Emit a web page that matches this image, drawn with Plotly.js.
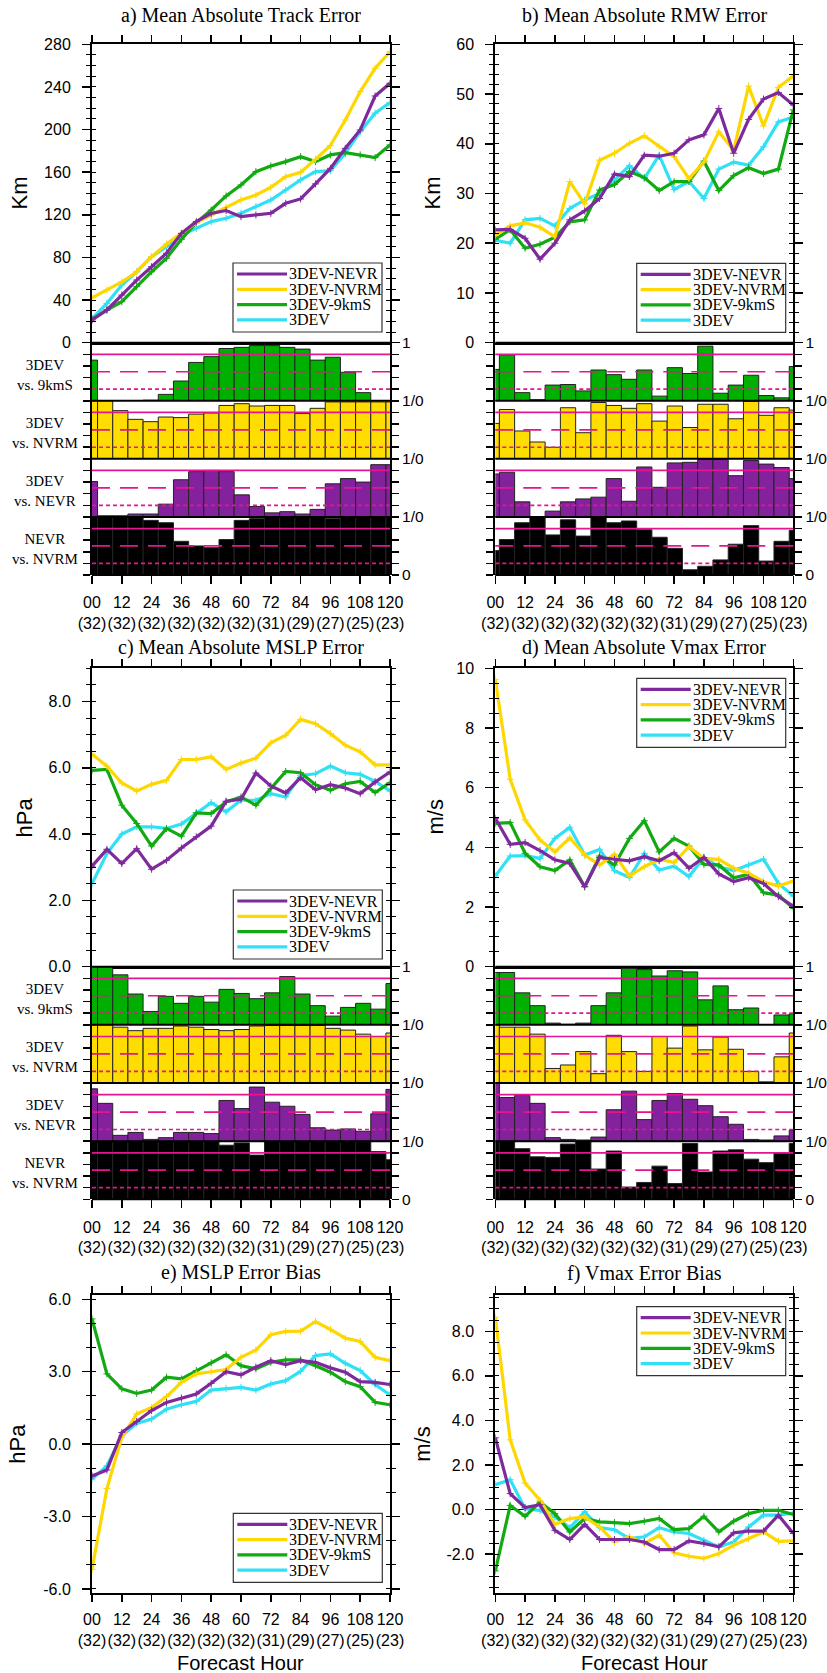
<!DOCTYPE html>
<html><head><meta charset="utf-8">
<script src="https://cdn.plot.ly/plotly-3.0.1.min.js"></script>
<style>html,body{margin:0;padding:0;background:#fff}#chart{width:827px;height:1673px}</style>
</head><body><div id="chart"></div>
<script>
// ---------------- DATA ----------------
const forecastHours = [0,6,12,18,24,30,36,42,48,54,60,66,72,78,84,90,96,102,108,114,120];
const tickHours = [0,12,24,36,48,60,72,84,96,108,120];
const tickLabels = ['00','12','24','36','48','60','72','84','96','108','120'];
const caseCounts = ['(32)','(32)','(32)','(32)','(32)','(32)','(31)','(29)','(27)','(25)','(23)'];
const seriesNames = ['3DEV-NEVR','3DEV-NVRM','3DEV-9kmS','3DEV'];
const seriesColors = ['#7E2A9D','#FFD700','#12AA12','#30E0F4'];
const barLabels = ['3DEV<br>vs. 9kmS','3DEV<br>vs. NVRM','3DEV<br>vs. NEVR','NEVR<br>vs. NVRM'];
const barColors = ['#00B000','#FFDD00','#84229E','#000000'];
const sigLevels = [0.8, 0.5, 0.2];
const stackEdgeLabels = ['0','1/0','1/0','1/0','1'];
const titles = ['a) Mean Absolute Track Error','b) Mean Absolute RMW Error','c) Mean Absolute MSLP Error','d) Mean Absolute Vmax Error','e) MSLP Error Bias','f) Vmax Error Bias'];
const yTitles = ['Km','Km','hPa','m/s','hPa','m/s'];

// a) track
const trackNEVR = [21.3,30.7,44.7,58.8,71.3,83.9,102.6,113.6,121.4,124.0,118.3,119.8,121.4,130.8,134.9,149.0,163.6,182.4,199.6,231.5,243.4];
const trackNVRM = [42.2,49.4,57.0,66.6,80.7,92.6,102.6,112.6,119.8,127.0,134.0,138.6,145.8,155.8,160.0,172.0,185.0,209.0,235.6,257.5,273.0];
const track9kmS = [21.9,30.7,38.5,52.6,66.6,79.2,97.0,112.6,124.5,137.7,148.0,160.5,165.8,169.9,174.6,169.9,176.2,178.3,176.2,173.7,185.5];
const track3DEV = [22.8,36.9,54.1,66.6,80.7,90.1,101.0,107.3,113.6,116.7,121.4,127.7,133.9,143.3,152.7,160.5,161.5,177.7,198.0,215.3,225.3];
// b) RMW
const rmwNEVR = [22.7,22.8,21.0,16.8,20.0,24.7,26.5,29.0,33.9,33.4,37.7,37.5,38.1,40.8,41.8,47.1,38.1,44.9,49.0,50.3,47.8];
const rmwNVRM = [21.6,23.5,24.1,23.2,21.3,32.4,27.9,36.7,38.1,40.1,41.6,39.4,37.4,33.0,36.3,42.4,38.7,51.6,43.6,51.3,53.6];
const rmw9kmS = [20.8,22.7,19.0,19.8,21.2,24.3,24.7,30.7,31.8,34.4,33.2,30.6,32.4,32.4,36.5,30.6,33.6,35.2,34.0,34.9,46.8];
const rmw3DEV = [20.6,20.0,24.7,25.0,23.5,27.0,28.7,30.0,32.7,35.6,33.0,37.7,30.8,32.4,29.0,34.9,36.3,35.7,39.4,44.4,45.4];
// c) MSLP
const mslpNEVR = [3.03,3.54,3.11,3.56,2.94,3.21,3.58,3.92,4.24,4.99,5.05,5.84,5.45,5.24,5.70,5.34,5.49,5.39,5.22,5.57,5.87];
const mslpNVRM = [6.41,6.05,5.54,5.30,5.50,5.62,6.25,6.25,6.33,5.95,6.14,6.29,6.75,6.98,7.46,7.33,7.03,6.68,6.48,6.09,6.09];
const mslp9kmS = [5.92,5.95,4.87,4.32,3.64,4.17,3.94,4.64,4.62,4.97,5.12,4.87,5.37,5.89,5.85,5.49,5.32,5.52,5.59,5.25,5.55];
const mslp3DEV = [2.51,3.41,4.00,4.22,4.22,4.17,4.30,4.64,4.95,4.67,5.02,5.02,5.22,5.12,5.77,5.82,6.05,5.85,5.80,5.59,5.30];
// d) Vmax
const vmaxNEVR = [4.97,4.10,4.16,3.89,3.58,3.46,2.68,3.66,3.60,3.55,3.69,3.55,3.82,3.30,3.66,3.11,2.85,2.98,2.79,2.35,2.03];
const vmaxNVRM = [9.63,6.28,4.92,4.25,3.85,4.32,3.74,3.41,3.77,3.04,3.35,3.60,3.49,4.02,3.63,3.60,3.30,3.13,2.85,2.70,2.87];
const vmax9kmS = [4.80,4.83,3.80,3.35,3.22,3.58,2.68,3.71,3.41,4.30,4.89,3.85,4.30,4.04,3.43,3.41,2.98,3.10,2.48,2.40,1.96];
const vmax3DEV = [3.04,3.71,3.72,3.63,4.30,4.67,3.74,3.93,3.22,2.99,3.80,3.24,3.37,3.02,3.66,3.35,3.22,3.41,3.60,2.79,2.37];
// e) MSLP bias
const biasMslpNEVR = [-1.32,-1.07,0.48,0.94,1.39,1.73,1.91,2.08,2.52,3.00,2.87,3.19,3.46,3.30,3.46,3.39,3.16,2.98,2.59,2.56,2.47];
const biasMslpNVRM = [-5.19,-1.84,0.28,1.25,1.52,1.97,2.56,2.91,3.00,3.09,3.60,3.90,4.53,4.67,4.68,5.08,4.75,4.39,4.25,3.60,3.46];
const biasMslp9kmS = [5.19,2.91,2.29,2.10,2.24,2.77,2.70,3.05,3.37,3.70,3.25,3.12,3.39,3.49,3.49,3.25,2.98,2.59,2.38,1.73,1.63];
const biasMslp3DEV = [-1.45,-0.90,0.35,0.86,1.04,1.45,1.63,1.77,2.24,2.31,2.35,2.24,2.49,2.63,3.02,3.67,3.74,3.35,3.05,2.47,2.04];
// f) Vmax bias
const biasVmaxNEVR = [3.22,0.72,0.09,0.22,-0.93,-1.34,-0.66,-1.34,-1.34,-1.34,-1.45,-1.79,-1.79,-1.40,-1.52,-1.67,-1.04,-0.96,-0.96,-0.25,-1.07];
const biasVmaxNVRM = [8.63,3.13,1.19,0.42,-0.66,-0.40,-0.33,-0.78,-1.45,-1.22,-1.52,-1.15,-1.94,-2.09,-2.19,-1.97,-1.60,-1.30,-1.00,-1.42,-1.40];
const biasVmax9kmS = [-2.75,0.19,-0.30,0.34,-0.18,-1.00,-0.40,-0.55,-0.58,-0.63,-0.52,-0.40,-0.90,-0.85,-0.30,-1.00,-0.52,-0.18,-0.03,-0.03,-0.22];
const biasVmax3DEV = [1.12,1.34,0.04,-0.03,-0.33,-0.81,-0.10,-0.81,-0.90,-1.30,-1.22,-0.81,-1.00,-1.07,-1.37,-1.67,-1.45,-0.78,-0.25,-0.25,-0.15];

// significance bars (0..1)
const sigTrack9kmS  = [0.70,0,0,0,0.01,0.11,0.34,0.66,0.76,0.90,0.92,0.95,0.95,0.92,0.89,0.70,0.75,0.49,0.14,0,0];
const sigTrackNVRM  = [1.0,1.0,0.83,0.68,0.64,0.72,0.71,0.77,0.79,0.92,0.95,0.91,0.92,0.92,0.78,0.87,0.98,0.98,0.98,0.98,0.98];
const sigTrackNEVR  = [0.61,0.02,0.02,0.05,0.05,0.22,0.64,0.78,0.80,0.78,0.38,0.18,0.07,0.09,0.05,0.13,0.57,0.66,0.60,0.90,0.90];
const sigTrackNN    = [1.0,1.0,1.0,0.99,0.94,0.90,0.58,0.50,0.47,0.61,0.94,0.97,1.0,1.0,1.0,1.0,0.97,1.0,1.0,1.0,1.0];
const sigRmw9kmS    = [0.54,0.79,0.14,0.02,0.27,0.28,0.17,0.53,0.45,0.37,0.53,0.08,0.57,0.47,0.94,0.13,0.27,0.44,0.09,0.05,0.59];
const sigRmwNVRM    = [0.61,0.85,0.48,0.29,0.20,0.88,0.45,0.97,0.92,0.87,0.95,0.65,0.91,0.54,0.94,0.94,0.69,0.99,0.75,0.88,0.84];
const sigRmwNEVR    = [0.74,0.77,0.26,0.0,0.10,0.26,0.31,0.34,0.66,0.27,0.86,0.51,0.93,0.94,0.99,0.99,0.71,0.97,0.91,0.85,0.66];
const sigRmwNN      = [0.42,0.61,0.90,1.0,0.69,0.95,0.67,1.0,0.90,0.93,0.78,0.65,0.46,0.09,0.15,0.26,0.53,0.85,0.24,0.58,0.77];
const sigMslp9kmS   = [1.0,1.0,0.86,0.53,0.23,0.49,0.37,0.49,0.39,0.61,0.54,0.45,0.55,0.83,0.53,0.33,0.15,0.30,0.37,0.27,0.71];
const sigMslpNVRM   = [1.0,1.0,0.96,0.90,0.94,0.94,0.98,0.96,0.92,0.90,0.92,0.98,0.99,0.99,0.99,0.99,0.94,0.91,0.84,0.80,0.86];
const sigMslpNEVR   = [0.90,0.65,0.10,0.15,0.03,0.06,0.15,0.15,0.13,0.70,0.56,0.93,0.67,0.60,0.46,0.23,0.19,0.21,0.17,0.47,0.89];
const sigMslpNN     = [1.0,1.0,1.0,1.0,1.0,1.0,1.0,1.0,1.0,0.93,0.97,0.76,1.0,1.0,1.0,1.0,1.0,1.0,0.99,0.82,0.68];
const sigVmax9kmS   = [0.90,0.90,0.55,0.33,0.03,0.01,0.03,0.33,0.55,0.97,0.95,0.84,0.93,0.91,0.43,0.67,0.26,0.29,0.0,0.17,0.19];
const sigVmaxNVRM   = [1.0,0.96,0.96,0.84,0.25,0.31,0.54,0.16,0.82,0.54,0.20,0.80,0.60,0.98,0.57,0.79,0.58,0.20,0.02,0.45,0.86];
const sigVmaxNEVR   = [0.99,0.75,0.79,0.65,0.06,0.03,0.02,0.07,0.54,0.86,0.37,0.70,0.82,0.72,0.61,0.42,0.29,0.03,0.02,0.09,0.19];
const sigVmaxNN     = [1.0,1.0,0.87,0.73,0.72,0.95,1.0,0.52,0.83,0.21,0.29,0.57,0.27,0.96,0.47,0.83,0.85,0.69,0.63,0.80,0.96];

// axis tick values
const trackTicks = [0,40,80,120,160,200,240,280];
const rmwTicks = [0,10,20,30,40,50,60];
const mslpTicks = [0,2,4,6,8];
const vmaxTicks = [0,2,4,6,8,10];
const biasMslpTicks = [-6,-3,0,3,6];
const biasVmaxTicks = [-2,0,2,4,6,8];

// ---------------- LAYOUT HELPERS ----------------
const W = 827, H = 1673;
const SANS = '"Liberation Sans", Arial, Helvetica, sans-serif';
const SERIF = '"Liberation Serif", "Times New Roman", serif';
const MAG = '#E3168F';
const px2x = p => p / W;
const py2y = p => 1 - p / H;
const xk = i => i === 1 ? 'xaxis' : 'xaxis' + i;
const yk = i => i === 1 ? 'yaxis' : 'yaxis' + i;
const xr = i => i === 1 ? 'x' : 'x' + i;
const yr = i => i === 1 ? 'y' : 'y' + i;

const layout = {
  width: W, height: H, margin: {l:0, r:0, t:0, b:0, pad:0},
  paper_bgcolor: '#fff', plot_bgcolor: 'rgba(0,0,0,0)', showlegend: false,
  bargap: 0, font: {family: SANS, color: '#000'}, shapes: [], annotations: []
};
const data = [];
let nId = 0;
const newId = () => ++nId;
function dummy(xi, yi) {
  data.push({type:'scatter', mode:'lines', x:[null], y:[null], xaxis:xr(xi), yaxis:yr(yi), hoverinfo:'skip', showlegend:false});
}
const hourTickText = tickLabels.map((t, i) => t + '<br>' + caseCounts[i]);

const cols = [{c0:92, c1:390, barRange:[0.8,118.6]}, {c0:495.3, c1:793.3, barRange:[1.4,118.6]}];
const rows = [
  {top:44.3, bot:342.7, stackBot:575, titleY:[15,15]},
  {top:668.3, bot:966.7, stackBot:1199.3, titleY:[647,647]},
  {top:1294.5, bot:1593, titleY:[1272,1273]}
];

function drawLegend(lx, ly) {
  layout.shapes.push({type:'rect', xref:'paper', yref:'paper', x0:px2x(lx), x1:px2x(lx+149), y0:py2y(ly+69), y1:py2y(ly), line:{color:'#333', width:1.2}, fillcolor:'#fff', layer:'above'});
  seriesNames.forEach((nm, k) => {
    const yy = ly + 11 + 15.3 * k;
    layout.shapes.push({type:'line', xref:'paper', yref:'paper', x0:px2x(lx+4), x1:px2x(lx+54), y0:py2y(yy), y1:py2y(yy), line:{color:seriesColors[k], width:3.2}, layer:'above'});
    layout.annotations.push({xref:'paper', yref:'paper', x:px2x(lx+54), y:py2y(yy), text:nm, showarrow:false, xanchor:'left', yanchor:'middle', font:{family:SERIF, size:16, color:'#000'}});
  });
}

function mainPanel(p) {
  const c = cols[p.col], r = rows[p.row];
  const last = p.row === 2;
  const id = newId();
  layout[xk(id)] = {
    domain:[px2x(c.c0), px2x(c.c1)], range:[0,120], anchor:yr(id),
    side: last ? 'bottom' : 'top', tickmode:'array', tickvals:tickHours,
    ticktext: hourTickText, showticklabels: last, tickangle:0,
    ticks:'outside', ticklen:7, tickwidth:1.5, tickcolor:'#000',
    showline:true, linewidth:2, linecolor:'#000', mirror: last ? 'allticks' : true,
    showgrid:false, zeroline:false, tickfont:{family:SANS, size:16}, ticklabelstandoff:4
  };
  const tt = p.ticks.map(v => p.fmt(v));
  layout[yk(id)] = {
    domain:[py2y(r.bot), py2y(r.top)], range:p.range, anchor:xr(id),
    tickmode:'array', tickvals:p.ticks, ticktext:tt,
    ticks:'outside', ticklen:8, tickwidth:1.5, tickcolor:'#000',
    minor:{tickmode:'linear', tick0:0, dtick:p.minor, ticks:'outside', ticklen:4, tickwidth:1, tickcolor:'#000', showgrid:false},
    showline:true, linewidth:2, linecolor:'#000', mirror:'allticks',
    showgrid:false, zeroline:!!p.zero, zerolinewidth:1, zerolinecolor:'#000',
    tickfont:{family:SANS, size:16}, ticklabelstandoff:8
  };
  const oid = newId();
  layout[yk(oid)] = {
    overlaying:yr(id), range:p.range, anchor:xr(id),
    tickmode:'array', tickvals:p.ticks, ticktext:tt.map(() => ''),
    ticks:'inside', ticklen:8, tickwidth:1.5, tickcolor:'#000',
    minor:{tickmode:'linear', tick0:0, dtick:p.minor, ticks:'inside', ticklen:4, tickwidth:1, tickcolor:'#000', showgrid:false},
    showline:false, mirror:'allticks', showticklabels:false, showgrid:false, zeroline:false
  };
  dummy(id, oid);
  for (let s = 3; s >= 0; s--) {
    data.push({type:'scatter', mode:'lines+markers', x:forecastHours, y:p.series[s],
      xaxis:xr(id), yaxis:yr(id), line:{color:seriesColors[s], width:3.2},
      marker:{symbol:'cross-thin', size:5, color:seriesColors[s], line:{width:1, color:seriesColors[s]}},
      hoverinfo:'skip', showlegend:false});
  }
  const cx = (c.c0 + c.c1) / 2;
  layout.annotations.push({xref:'paper', yref:'paper', x:px2x(cx), y:py2y(r.titleY[p.col]), text:titles[p.idx], showarrow:false, xanchor:'center', yanchor:'middle', font:{family:SERIF, size:20, color:'#000'}});
  layout.annotations.push({xref:'paper', yref:'paper', x:px2x(p.ytx), y:py2y((r.top + r.bot) / 2), text:yTitles[p.idx], textangle:-90, showarrow:false, xanchor:'center', yanchor:'middle', font:{family:SANS, size:22, color:'#000'}});
  if (last) {
    layout.annotations.push({xref:'paper', yref:'paper', x:px2x(cx), y:py2y(1663), text:'Forecast Hour', showarrow:false, xanchor:'center', yanchor:'middle', font:{family:SANS, size:20, color:'#000'}});
  }
  drawLegend(p.legend[0], p.legend[1]);
}

function barStack(p) {
  const c = cols[p.col], r = rows[p.row];
  const top = r.bot, bot = r.stackBot, h = (bot - top) / 4;
  const bx = newId();
  const byIds = [];
  for (let k = 0; k < 4; k++) {
    const by = newId();
    byIds.push(by);
    layout[yk(by)] = {domain:[py2y(top + (k + 1) * h), py2y(top + k * h)], range:[0,1], anchor:xr(bx), visible:false};
    data.push({type:'bar', x:forecastHours, y:p.vals[k], xaxis:xr(bx), yaxis:yr(by),
      marker:{color:barColors[k], line:{color:'#222', width:1}}, hoverinfo:'skip', showlegend:false});
    const dashes = ['solid', '18px,10px', '4px,3px'];
    sigLevels.forEach((lv, j) => {
      layout.shapes.push({type:'line', xref:xr(bx) + ' domain', x0:0, x1:1, yref:yr(by), y0:lv, y1:lv, line:{color:MAG, width:1.7, dash:dashes[j]}, layer:'above'});
    });
    if (p.col === 0) {
      layout.annotations.push({xref:'paper', yref:'paper', x:px2x(45), y:py2y(top + k * h + h / 2 + 3), text:barLabels[k], showarrow:false, xanchor:'center', yanchor:'middle', font:{family:SERIF, size:15, color:'#000'}});
    }
  }
  layout[xk(bx)] = {domain:[px2x(c.c0), px2x(c.c1)], range:c.barRange, anchor:yr(byIds[3]), visible:false};
  for (let k = 0; k <= 4; k++) {
    const yy = py2y(top + k * h);
    layout.shapes.push({type:'line', xref:'paper', yref:'paper', x0:px2x(c.c0), x1:px2x(c.c1), y0:yy, y1:yy, line:{color:'#000', width:2}, layer:'above'});
  }
  const stackVals = [];
  for (let v = 0; v <= 20; v++) stackVals.push(v / 5);
  const lid = newId();
  layout[yk(lid)] = {domain:[py2y(bot), py2y(top)], range:[0,4], anchor:xr(bx), side:'left',
    tickmode:'array', tickvals:stackVals, ticktext:stackVals.map(() => ''), ticks:'outside', ticklen:7, tickwidth:1.5, tickcolor:'#000',
    showticklabels:false, showline:true, linewidth:2, linecolor:'#000', showgrid:false, zeroline:false};
  dummy(bx, lid);
  const rid = newId();
  layout[yk(rid)] = {domain:[py2y(bot), py2y(top)], range:[0,4], anchor:xr(bx), side:'right',
    tickmode:'array', tickvals:stackVals, ticktext:stackVals.map(v => (v % 1 === 0) ? stackEdgeLabels[v] : ''),
    ticks:'outside', ticklen:7, tickwidth:1.5, tickcolor:'#000',
    showline:true, linewidth:2, linecolor:'#000', showgrid:false, zeroline:false,
    tickfont:{family:SANS, size:15.5}, ticklabelstandoff:0};
  dummy(bx, rid);
  const tx = newId();
  layout[xk(tx)] = {domain:[px2x(c.c0), px2x(c.c1)], range:[0,120], anchor:yr(byIds[3]), side:'bottom',
    tickmode:'array', tickvals:tickHours, ticktext:hourTickText, tickangle:0, ticks:'outside', ticklen:8, tickwidth:1.5, tickcolor:'#000',
    showline:false, showgrid:false, zeroline:false, tickfont:{family:SANS, size:16}, ticklabelstandoff:5};
  dummy(tx, byIds[3]);
}

const fInt = v => String(v);
const f1 = v => v.toFixed(1);

mainPanel({idx:0, col:0, row:0, range:[0,280], ticks:trackTicks, minor:10, fmt:fInt, series:[trackNEVR,trackNVRM,track9kmS,track3DEV], ytx:19, legend:[233,263]});
mainPanel({idx:1, col:1, row:0, range:[0,60], ticks:rmwTicks, minor:2, fmt:fInt, series:[rmwNEVR,rmwNVRM,rmw9kmS,rmw3DEV], ytx:432, legend:[636.7,263.3]});
mainPanel({idx:2, col:0, row:1, range:[0,9], ticks:mslpTicks, minor:0.5, fmt:f1, series:[mslpNEVR,mslpNVRM,mslp9kmS,mslp3DEV], ytx:24, legend:[233.3,890]});
mainPanel({idx:3, col:1, row:1, range:[0,10], ticks:vmaxTicks, minor:0.5, fmt:fInt, series:[vmaxNEVR,vmaxNVRM,vmax9kmS,vmax3DEV], ytx:435, legend:[636.7,678.3]});
mainPanel({idx:4, col:0, row:2, range:[-6.17,6.2], ticks:biasMslpTicks, minor:1, fmt:f1, zero:true, series:[biasMslpNEVR,biasMslpNVRM,biasMslp9kmS,biasMslp3DEV], ytx:18, legend:[233.3,1513.3]});
mainPanel({idx:5, col:1, row:2, range:[-3.74,9.65], ticks:biasVmaxTicks, minor:0.5, fmt:f1, zero:true, series:[biasVmaxNEVR,biasVmaxNVRM,biasVmax9kmS,biasVmax3DEV], ytx:423, legend:[636.7,1306.7]});

barStack({col:0, row:0, vals:[sigTrack9kmS, sigTrackNVRM, sigTrackNEVR, sigTrackNN]});
barStack({col:1, row:0, vals:[sigRmw9kmS, sigRmwNVRM, sigRmwNEVR, sigRmwNN]});
barStack({col:0, row:1, vals:[sigMslp9kmS, sigMslpNVRM, sigMslpNEVR, sigMslpNN]});
barStack({col:1, row:1, vals:[sigVmax9kmS, sigVmaxNVRM, sigVmaxNEVR, sigVmaxNN]});

Plotly.newPlot('chart', data, layout, {staticPlot:true, displayModeBar:false});
</script>
</body></html>
